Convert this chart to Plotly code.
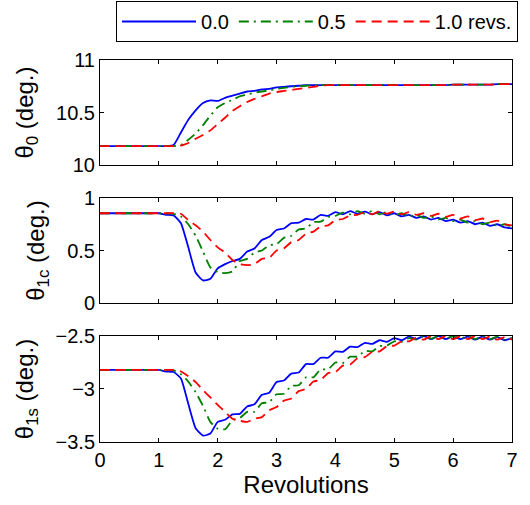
import plotly.graph_objects as go
from plotly.subplots import make_subplots

# revolutions, sampled every 1/8 rev
revs = [0, 0.125, 0.25, 0.375, 0.5, 0.625, 0.75, 0.875, 1.0, 1.125, 1.25, 1.375,
        1.5, 1.625, 1.75, 1.875, 2.0, 2.125, 2.25, 2.375, 2.5, 2.625, 2.75, 2.875,
        3.0, 3.125, 3.25, 3.375, 3.5, 3.625, 3.75, 3.875, 4.0, 4.125, 4.25, 4.375,
        4.5, 4.625, 4.75, 4.875, 5.0, 5.125, 5.25, 5.375, 5.5, 5.625, 5.75, 5.875,
        6.0, 6.125, 6.25, 6.375, 6.5, 6.625, 6.75, 6.875, 7.0]

legend_names = ["0.0", "0.5", "1.0 revs."]

# theta_0 (deg.)
th0_00 = [10.18, 10.18, 10.18, 10.18, 10.18, 10.18, 10.18, 10.18, 10.18, 10.18, 10.19, 10.31,
          10.43, 10.52, 10.59, 10.615, 10.61, 10.64, 10.66, 10.68, 10.70, 10.705, 10.72, 10.725,
          10.74, 10.745, 10.75, 10.755, 10.76, 10.76, 10.76, 10.76, 10.76, 10.76, 10.76, 10.76,
          10.76, 10.76, 10.76, 10.76, 10.76, 10.76, 10.76, 10.76, 10.76, 10.76, 10.76, 10.76,
          10.765, 10.765, 10.765, 10.765, 10.765, 10.765, 10.77, 10.77, 10.77]
th0_05 = [10.18, 10.18, 10.18, 10.18, 10.18, 10.18, 10.18, 10.18, 10.18, 10.18, 10.18, 10.19,
          10.24, 10.30, 10.38, 10.47, 10.55, 10.59, 10.62, 10.655, 10.67, 10.69, 10.70, 10.71,
          10.725, 10.735, 10.745, 10.75, 10.755, 10.76, 10.76, 10.76, 10.76, 10.76, 10.76, 10.76,
          10.76, 10.76, 10.76, 10.76, 10.76, 10.76, 10.76, 10.76, 10.76, 10.76, 10.76, 10.76,
          10.765, 10.765, 10.765, 10.765, 10.765, 10.765, 10.77, 10.77, 10.77]
th0_10 = [10.18, 10.18, 10.18, 10.18, 10.18, 10.18, 10.18, 10.18, 10.18, 10.18, 10.18, 10.185,
          10.21, 10.25, 10.285, 10.33, 10.39, 10.45, 10.515, 10.56, 10.60, 10.63, 10.655, 10.68,
          10.695, 10.705, 10.715, 10.725, 10.735, 10.745, 10.755, 10.76, 10.76, 10.76, 10.76, 10.76,
          10.76, 10.76, 10.76, 10.76, 10.76, 10.76, 10.76, 10.76, 10.76, 10.76, 10.76, 10.76,
          10.765, 10.765, 10.765, 10.765, 10.765, 10.765, 10.77, 10.77, 10.77]

# theta_1c (deg.)
th1c_00 = [0.855, 0.855, 0.855, 0.855, 0.855, 0.855, 0.855, 0.855, 0.855, 0.84, 0.835, 0.76,
           0.53, 0.29, 0.215, 0.23, 0.33, 0.37, 0.40, 0.42, 0.49, 0.52, 0.60, 0.63,
           0.695, 0.71, 0.76, 0.765, 0.80, 0.795, 0.84, 0.83, 0.865, 0.845, 0.875, 0.85,
           0.87, 0.845, 0.865, 0.835, 0.855, 0.825, 0.84, 0.81, 0.825, 0.795, 0.81, 0.78,
           0.795, 0.765, 0.78, 0.75, 0.765, 0.735, 0.75, 0.72, 0.71]
th1c_05 = [0.855, 0.855, 0.855, 0.855, 0.855, 0.855, 0.855, 0.855, 0.855, 0.855, 0.85, 0.825,
           0.75, 0.64, 0.49, 0.34, 0.295, 0.285, 0.30, 0.40, 0.42, 0.48, 0.50, 0.55,
           0.56, 0.62, 0.64, 0.70, 0.71, 0.77, 0.775, 0.82, 0.83, 0.86, 0.845, 0.875,
           0.85, 0.875, 0.845, 0.865, 0.835, 0.855, 0.825, 0.84, 0.81, 0.825, 0.795, 0.81,
           0.78, 0.795, 0.765, 0.78, 0.75, 0.765, 0.735, 0.75, 0.725]
th1c_10 = [0.855, 0.855, 0.855, 0.855, 0.855, 0.855, 0.855, 0.855, 0.855, 0.855, 0.855, 0.85,
           0.79, 0.74, 0.68, 0.60, 0.53, 0.48, 0.41, 0.37, 0.36, 0.37, 0.42, 0.43,
           0.50, 0.52, 0.58, 0.60, 0.66, 0.68, 0.73, 0.74, 0.79, 0.80, 0.835, 0.84,
           0.865, 0.845, 0.875, 0.85, 0.87, 0.845, 0.865, 0.84, 0.855, 0.83, 0.85, 0.82,
           0.84, 0.805, 0.825, 0.79, 0.805, 0.77, 0.785, 0.75, 0.74]

# theta_1s (deg.)
th1s_00 = [-2.82, -2.82, -2.82, -2.82, -2.82, -2.82, -2.82, -2.82, -2.82, -2.835, -2.84, -2.90,
           -3.14, -3.37, -3.44, -3.42, -3.31, -3.29, -3.24, -3.235, -3.165, -3.145, -3.055, -3.035,
           -2.935, -2.92, -2.855, -2.845, -2.765, -2.765, -2.705, -2.705, -2.645, -2.65, -2.60, -2.605,
           -2.565, -2.575, -2.54, -2.555, -2.52, -2.54, -2.505, -2.53, -2.50, -2.53, -2.50, -2.53,
           -2.50, -2.53, -2.505, -2.535, -2.505, -2.535, -2.51, -2.54, -2.52]
th1s_05 = [-2.82, -2.82, -2.82, -2.82, -2.82, -2.82, -2.82, -2.82, -2.82, -2.82, -2.825, -2.86,
           -2.93, -3.03, -3.16, -3.31, -3.375, -3.38, -3.295, -3.275, -3.215, -3.215, -3.135, -3.125,
           -3.05, -3.045, -2.97, -2.965, -2.89, -2.89, -2.815, -2.815, -2.75, -2.755, -2.695, -2.695,
           -2.64, -2.645, -2.595, -2.59, -2.55, -2.555, -2.52, -2.535, -2.50, -2.525, -2.50, -2.525,
           -2.50, -2.525, -2.50, -2.53, -2.50, -2.53, -2.505, -2.535, -2.52]
th1s_10 = [-2.82, -2.82, -2.82, -2.82, -2.82, -2.82, -2.82, -2.82, -2.82, -2.82, -2.82, -2.835,
           -2.88, -2.935, -3.01, -3.08, -3.15, -3.215, -3.28, -3.30, -3.31, -3.28, -3.265, -3.20,
           -3.17, -3.11, -3.09, -3.02, -3.00, -2.93, -2.915, -2.85, -2.84, -2.78, -2.77, -2.71,
           -2.70, -2.65, -2.645, -2.595, -2.59, -2.55, -2.55, -2.515, -2.535, -2.50, -2.53, -2.50,
           -2.53, -2.50, -2.53, -2.50, -2.53, -2.505, -2.535, -2.51, -2.535]

panels = [
    ([th0_00, th0_05, th0_10], "θ<sub>0</sub> (deg.)", [10, 11], [10, 10.5, 11]),
    ([th1c_00, th1c_05, th1c_10], "θ<sub>1c</sub> (deg.)", [0, 1], [0, 0.5, 1]),
    ([th1s_00, th1s_05, th1s_10], "θ<sub>1s</sub> (deg.)", [-3.5, -2.5], [-3.5, -3, -2.5]),
]
# panel vertical extents in paper units
domains = [[0.7251, 1.0], [0.3639, 0.6387], [0.0, 0.2775]]

colors = ["#0000ff", "#008000", "#ff0000"]
dashes = ["solid", "10px,5px,2px,5px", "10px,6px"]

fig = make_subplots(rows=3, cols=1, shared_xaxes=False, vertical_spacing=0.08)

for r, (series, ytitle, yrng, ytk) in enumerate(panels, start=1):
    for k, vals in enumerate(series):
        fig.add_trace(go.Scatter(x=revs, y=vals, mode="lines", name=legend_names[k],
                                 line=dict(color=colors[k], width=1.8, dash=dashes[k], shape="spline", smoothing=0.5),
                                 showlegend=(r == 1)), row=r, col=1)
    fig.update_yaxes(range=yrng, tickvals=ytk, domain=domains[r - 1],
                     title=dict(text=ytitle, standoff=15), row=r, col=1)
    fig.update_xaxes(range=[0, 7], tickvals=[0, 1, 2, 3, 4, 5, 6, 7], showticklabels=(r == 3), row=r, col=1)

fig.update_xaxes(showline=True, mirror="ticks", linecolor="black", linewidth=1, ticks="inside",
                 ticklen=4, tickcolor="black", showgrid=False, zeroline=False, automargin=False)
fig.update_yaxes(showline=True, mirror="ticks", linecolor="black", linewidth=1, ticks="inside",
                 ticklen=4, tickcolor="black", showgrid=False, zeroline=False, automargin=False)
fig.update_xaxes(title_text="Revolutions", title_standoff=2, row=3, col=1)

fig.update_layout(
    width=530, height=505,
    margin=dict(l=100, r=18, t=60, b=63, autoexpand=False),
    paper_bgcolor="white", plot_bgcolor="white",
    font=dict(family="Liberation Sans, Arial, sans-serif", size=20, color="black"),
    legend=dict(orientation="h", x=1.0146, xanchor="right", y=1.1545, yanchor="top",
                bordercolor="black", borderwidth=1, bgcolor="white",
                itemwidth=74, font=dict(size=20)),
)

fig.write_html("out.html", config={"displayModeBar": False},
               post_script="document.body.style.margin='0';")
